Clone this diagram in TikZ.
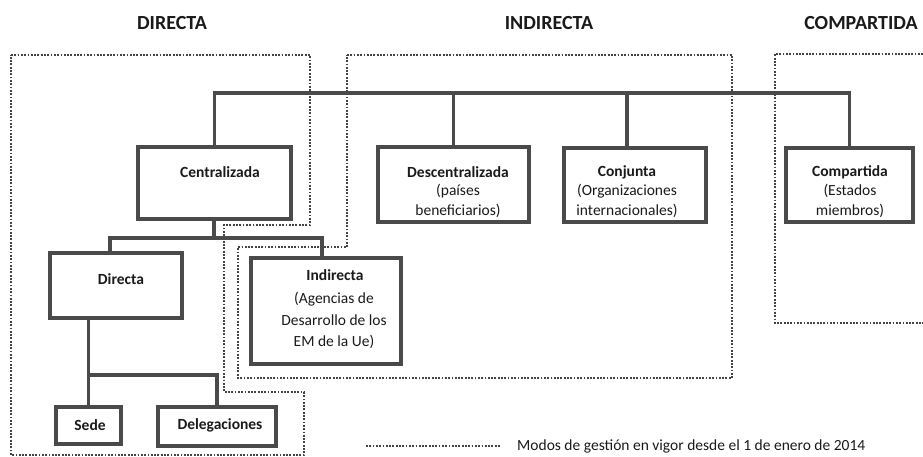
\documentclass[tikz,border=0pt]{standalone}
\usepackage{fontspec}
\setmainfont{Carlito}
\begin{document}
\begin{tikzpicture}[x=1pt,y=-1pt,
  box/.style={draw=linegray,line width=3.2pt,inner sep=0pt},
  conn/.style={draw=linegray,line width=3.2pt},
  region/.style={draw=dotgray,line width=2.2pt,dash pattern=on 1.8pt off 1.5pt},
  ttl/.style={font=\fontsize{15.5}{17}\selectfont\bfseries,text=txtc,inner sep=0pt},
  sub/.style={font=\fontsize{15.5}{20}\selectfont,text=txtc,inner sep=0pt,align=center},
  hdr/.style={font=\fontsize{20}{22}\selectfont\bfseries,text=txtc,inner sep=0pt}]
\definecolor{linegray}{HTML}{4A4A4A}
\definecolor{dotgray}{HTML}{444444}
\definecolor{txtc}{HTML}{1A1A1A}
\useasboundingbox (0,0) rectangle (923,457);

% headers
\node[hdr] (hd) at (172,23) {DIRECTA};
\node[hdr] (hi) at (549,23) {INDIRECTA};
\node[hdr] (hc) at (861,23) {COMPARTIDA};

% dotted regions
\draw[region] (11,55) -- (310,55) -- (310,225) -- (224,225) -- (224,392) -- (304,392) -- (304,455) -- (11,455) -- cycle;
\draw[region] (347,55) -- (732,55) -- (732,378) -- (238,378) -- (238,247) -- (347,247) -- cycle;
\draw[region] (923,54) -- (775,54) -- (775,323) -- (923,323);

% boxes
\node[box,minimum width=153pt,minimum height=72pt] (cen) at (214.5,183) {};
\node[box,minimum width=151pt,minimum height=75pt] (desc) at (453.5,184.5) {};
\node[box,minimum width=142pt,minimum height=74pt] (conj) at (635,185) {};
\node[box,minimum width=127pt,minimum height=74pt] (comp) at (849.5,185) {};
\node[box,minimum width=132pt,minimum height=65pt] (dir) at (116,285.5) {};
\node[box,minimum width=150pt,minimum height=106pt] (ind) at (326,311) {};
\node[box,minimum width=65pt,minimum height=37pt] (sede) at (88.5,425.5) {};
\node[box,minimum width=118pt,minimum height=39pt] (deleg) at (217,426.5) {};

% texts
\node[ttl] (tcen) at (220,172) {Centralizada};
\node[ttl] (tdesc) at (458,172) {Descentralizada};
\node[sub,anchor=north] (sdesc) at (458,184) {(países\\beneficiarios)};
\node[ttl] (tconj) at (627,172) {Conjunta};
\node[sub,anchor=north] (sconj) at (627,184) {(Organizaciones\\internacionales)};
\node[ttl] (tcomp) at (850,172) {Compartida};
\node[sub,anchor=north] (scomp) at (850,184) {(Estados\\miembros)};
\node[ttl] (tdir) at (121,279) {Directa};
\node[ttl] (tind) at (335,275) {Indirecta};
\node[sub,anchor=north,font=\fontsize{15.5}{21.5}\selectfont] (sind) at (334,292) {(Agencias de\\Desarrollo de los\\EM de la Ue)};
\node[ttl] (tsede) at (90,425) {Sede};
\node[ttl] (tdeleg) at (220,425) {Delegaciones};

% connectors
\coordinate (bar) at (0,93);
\draw[conn] (cen.north) |- (bar -| comp.north) -- (comp.north);
\draw[conn] (desc.north) -- (desc.north |- bar);
\draw[conn] ([xshift=-8pt]conj.north) -- ([xshift=-8pt]conj.north |- bar);
\coordinate (bar2) at (0,238);
\coordinate (dirc) at ([xshift=-6pt]dir.north);
\coordinate (indc) at ([xshift=-4pt]ind.north);
\draw[conn] ([xshift=-0.5pt]cen.south) -- ([xshift=-0.5pt]cen.south |- bar2);
\draw[conn] (dirc) -- (dirc |- bar2) -- (indc |- bar2) -- (indc);
\coordinate (bar3) at (0,375);
\draw[conn] (dir.south -| sede.north) -- (sede.north);
\draw[conn] (sede.north |- bar3) -| (deleg.north);

% legend
\coordinate (lga) at (366,446);
\coordinate (lgb) at (500,446);
\draw[region] (lga) -- (lgb);
\node[font=\fontsize{15.5}{17}\selectfont,text=txtc,anchor=west,inner sep=0pt] (lgt) at (517,446) {Modos de gestión en vigor desde el 1 de enero de 2014};
\end{tikzpicture}
\end{document}
